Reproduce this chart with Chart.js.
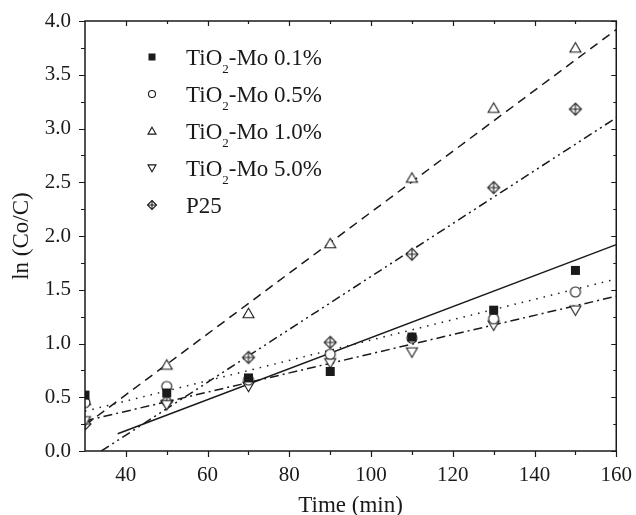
<!DOCTYPE html>
<html lang="en">
  <head>
    <meta charset="UTF-8" />
    <title>ln (Co/C) vs Time</title>
    <script src="https://cdn.jsdelivr.net/npm/chart.js"></script>
    <style>
      body {
        margin: 0;
        background: #fff;
      }
      .chart-box {
        width: 636px;
        height: 515px;
        position: relative;
      }
    </style>
  </head>
  <body>
    <div class="chart-box"><canvas id="kineticsChart"></canvas></div>

    <script>
      // measured points
      const times = [30, 50, 70, 90, 110, 130, 150];
      const mo01 = [0.52, 0.54, 0.68, 0.74, 1.06, 1.31, 1.68];
      const mo05 = [0.45, 0.6, 0.66, 0.9, 1.05, 1.23, 1.48];
      const mo10 = [0.47, 0.8, 1.28, 1.93, 2.54, 3.19, 3.75];
      const mo50 = [0.28, 0.43, 0.6, 0.82, 0.92, 1.17, 1.31];
      const p25 = [0.25, 0.46, 0.87, 1.01, 1.83, 2.45, 3.18];

      // linear fits (end points)
      const fit01X = [38, 160];
      const fit01Y = [0.16, 1.92];
      const fit05X = [30, 160];
      const fit05Y = [0.37, 1.6];
      const fit10X = [30, 160];
      const fit10Y = [0.24, 3.92];
      const fit50X = [30, 160];
      const fit50Y = [0.28, 1.44];
      const fitP25X = [34, 160];
      const fitP25Y = [0, 3.1];

      const seriesNames = [
        "TiO₂-Mo 0.1%",
        "TiO₂-Mo 0.5%",
        "TiO₂-Mo 1.0%",
        "TiO₂-Mo 5.0%",
        "P25",
      ];
      const markerKinds = ["square", "circle", "up", "down", "p25"];

      const xLabelTicks = [40, 60, 80, 100, 120, 140, 160];

      const INK = "#1a1a1a";
      const SERIF = "'Liberation Serif', 'DejaVu Serif', serif";

      const toPoints = (xs, ys) => xs.map((x, i) => ({ x: x, y: ys[i] }));

      function drawMarker(ctx, kind, x, y, s) {
        const h = s / 2;
        ctx.save();
        ctx.lineWidth = 1.1;
        ctx.strokeStyle = INK;
        ctx.fillStyle = "#fff";
        ctx.beginPath();
        if (kind === "square") {
          ctx.fillStyle = INK;
          ctx.fillRect(x - h, y - h, s, s);
        } else if (kind === "circle") {
          ctx.arc(x, y, h, 0, Math.PI * 2);
          ctx.fill();
          ctx.stroke();
        } else if (kind === "up") {
          ctx.moveTo(x, y - h * 0.95);
          ctx.lineTo(x + h, y + h * 0.78);
          ctx.lineTo(x - h, y + h * 0.78);
          ctx.closePath();
          ctx.fill();
          ctx.stroke();
        } else if (kind === "down") {
          ctx.moveTo(x, y + h * 0.95);
          ctx.lineTo(x + h, y - h * 0.78);
          ctx.lineTo(x - h, y - h * 0.78);
          ctx.closePath();
          ctx.fill();
          ctx.stroke();
        } else {
          ctx.moveTo(x, y - h);
          ctx.lineTo(x + h, y);
          ctx.lineTo(x, y + h);
          ctx.lineTo(x - h, y);
          ctx.closePath();
          ctx.fill();
          ctx.stroke();
          ctx.beginPath();
          ctx.moveTo(x, y - h);
          ctx.lineTo(x, y + h);
          ctx.moveTo(x - h, y);
          ctx.lineTo(x + h, y);
          ctx.stroke();
        }
        ctx.restore();
      }

      function makeMarker(kind, s) {
        const c = document.createElement("canvas");
        const side = s + 4;
        c.width = side;
        c.height = side;
        drawMarker(c.getContext("2d"), kind, side / 2, side / 2, s);
        return c;
      }

      const pointSeries = [mo01, mo05, mo10, mo50, p25];
      const pointSizes = [9, 10, 11, 11, 12];

      const pointSets = pointSeries.map((ys, i) => ({
        label: seriesNames[i],
        data: toPoints(times, ys),
        showLine: false,
        pointStyle: makeMarker(markerKinds[i], pointSizes[i]),
        pointRadius: 6,
        clip: 0,
      }));

      const fitStyle = (xs, ys, dash) => ({
        data: toPoints(xs, ys),
        showLine: true,
        borderColor: INK,
        borderWidth: 1.5,
        borderDash: dash,
        pointRadius: 0,
        clip: 0,
      });

      const fitSets = [
        fitStyle(fit01X, fit01Y, []),
        fitStyle(fit05X, fit05Y, [1.5, 6]),
        fitStyle(fit10X, fit10Y, [9, 6]),
        fitStyle(fit50X, fit50Y, [9, 4, 2, 4]),
        fitStyle(fitP25X, fitP25Y, [9, 4, 2, 4, 2, 4]),
      ];

      // box + inward/outward ticks like the original plot
      const framePlugin = {
        id: "frame",
        afterDatasetsDraw(chart) {
          const { ctx, chartArea: a, scales } = chart;
          const xs = scales.x;
          const ys = scales.y;
          ctx.save();
          ctx.strokeStyle = INK;
          ctx.lineWidth = 1.5;
          ctx.strokeRect(a.left, a.top, a.right - a.left, a.bottom - a.top);
          ctx.lineWidth = 1.2;
          ctx.beginPath();
          for (let v = 40; v <= 160; v += 10) {
            const px = Math.round(xs.getPixelForValue(v)) + 0.5;
            const major = (v - 40) % 20 === 0;
            ctx.moveTo(px, a.bottom);
            ctx.lineTo(px, a.bottom + (major ? 6 : 4));
            ctx.moveTo(px, a.top);
            ctx.lineTo(px, a.top + (major ? 5 : 3));
          }
          for (let v = 0; v <= 4.001; v += 0.25) {
            const py = Math.round(ys.getPixelForValue(v)) + 0.5;
            const major = Math.abs(v * 2 - Math.round(v * 2)) < 1e-6;
            ctx.moveTo(a.left, py);
            ctx.lineTo(a.left - (major ? 6 : 4), py);
            ctx.moveTo(a.right, py);
            ctx.lineTo(a.right - (major ? 5 : 3), py);
          }
          ctx.stroke();
          ctx.restore();
        },
      };

      const legendPlugin = {
        id: "insetLegend",
        afterDraw(chart) {
          const { ctx, chartArea: a } = chart;
          ctx.save();
          ctx.fillStyle = INK;
          ctx.textBaseline = "alphabetic";
          seriesNames.forEach((name, i) => {
            const cy = a.top + 36 + i * 37;
            drawMarker(ctx, markerKinds[i], a.left + 67, cy, [7, 7, 8, 8, 9][i]);
            let tx = a.left + 101;
            const base = cy + 8;
            const parts = name.split("₂");
            parts.forEach((part, j) => {
              ctx.font = "23px " + SERIF;
              ctx.fillText(part, tx, base);
              tx += ctx.measureText(part).width;
              if (j < parts.length - 1) {
                ctx.font = "13px " + SERIF;
                ctx.fillText("2", tx, base + 8);
                tx += ctx.measureText("2").width;
              }
            });
          });
          ctx.restore();
        },
      };

      new Chart(document.getElementById("kineticsChart"), {
        type: "scatter",
        data: { datasets: [...pointSets, ...fitSets] },
        options: {
          responsive: true,
          maintainAspectRatio: false,
          animation: false,
          layout: { padding: { top: 21, right: 19, left: 0, bottom: 0 } },
          plugins: {
            legend: { display: false },
            tooltip: { enabled: false },
          },
          scales: {
            x: {
              type: "linear",
              min: 30,
              max: 160,
              grid: { display: false },
              border: { display: false },
              ticks: {
                stepSize: 10,
                autoSkip: false,
                maxRotation: 0,
                padding: 4,
                color: INK,
                font: { family: SERIF, size: 21 },
                callback: (v) => (xLabelTicks.includes(v) ? String(v) : ""),
              },
              title: {
                display: true,
                text: "Time (min)",
                color: INK,
                font: { family: SERIF, size: 23 },
                padding: { top: 0, bottom: -5 },
              },
              afterFit: (s) => {
                s.height = 64;
              },
            },
            y: {
              min: 0,
              max: 4,
              grid: { display: false },
              border: { display: false },
              ticks: {
                stepSize: 0.5,
                padding: 6,
                color: INK,
                font: { family: SERIF, size: 21 },
                callback: (v) => v.toFixed(1),
              },
              title: {
                display: true,
                text: "ln (Co/C)",
                color: INK,
                font: { family: SERIF, size: 23 },
                padding: { top: 8, bottom: 0 },
              },
              afterFit: (s) => {
                s.width = 85;
              },
            },
          },
        },
        plugins: [framePlugin, legendPlugin],
      });
    </script>
  </body>
</html>
